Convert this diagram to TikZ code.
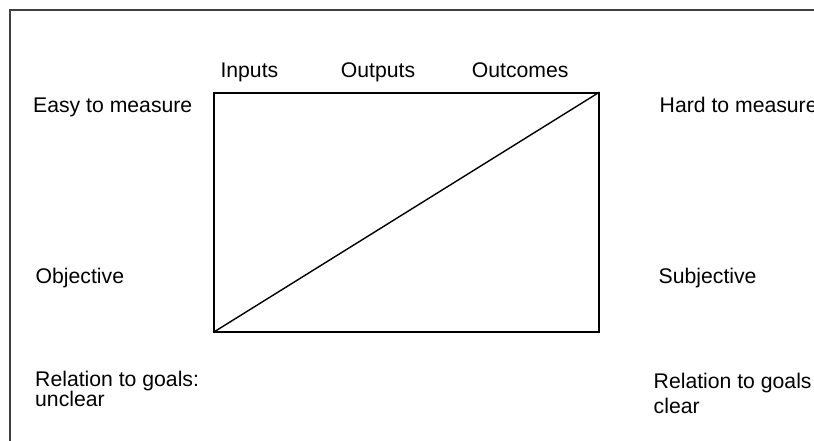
\documentclass[tikz,border=0pt]{standalone}
\usepackage{fontspec}
\setmainfont{Liberation Sans}
\begin{document}
\begin{tikzpicture}[x=1pt,y=-1pt,
  lbl/.style={anchor=base west,inner sep=0pt,font=\fontsize{21.2}{21.2}\selectfont},
  frame/.style={draw=black!75,line width=2pt},
  boxst/.style={draw=black,line width=1.4pt,inner sep=0pt,minimum width=385pt,minimum height=239pt}]
\useasboundingbox (0,0) rectangle (814,440);
\draw[frame] (10,10) rectangle (830,460);
\node[boxst] (box) at (406.3,212.3) {};
\draw[line width=1.4pt] (box.south west) -- (box.north east);
\node[lbl] (in) at (220.3,77.3) {Inputs};
\node[lbl] (out) at (340.7,77.3) {Outputs};
\node[lbl] (oc) at (471.7,77.3) {Outcomes};
\node[lbl] (easy) at (33,112) {Easy to measure};
\node[lbl] (hard) at (659.5,112) {Hard to measure};
\node[lbl] (obj) at (35.5,283) {Objective};
\node[lbl] (subj) at (658.5,283) {Subjective};
\node[lbl] (rl1) at (35,386.5) {Relation to goals:};
\node[lbl] (rl2) at (35,406) {unclear};
\node[lbl] (rr1) at (653.5,388.3) {Relation to goals};
\node[lbl] (rr2) at (653.5,413) {clear};
\end{tikzpicture}
\end{document}
